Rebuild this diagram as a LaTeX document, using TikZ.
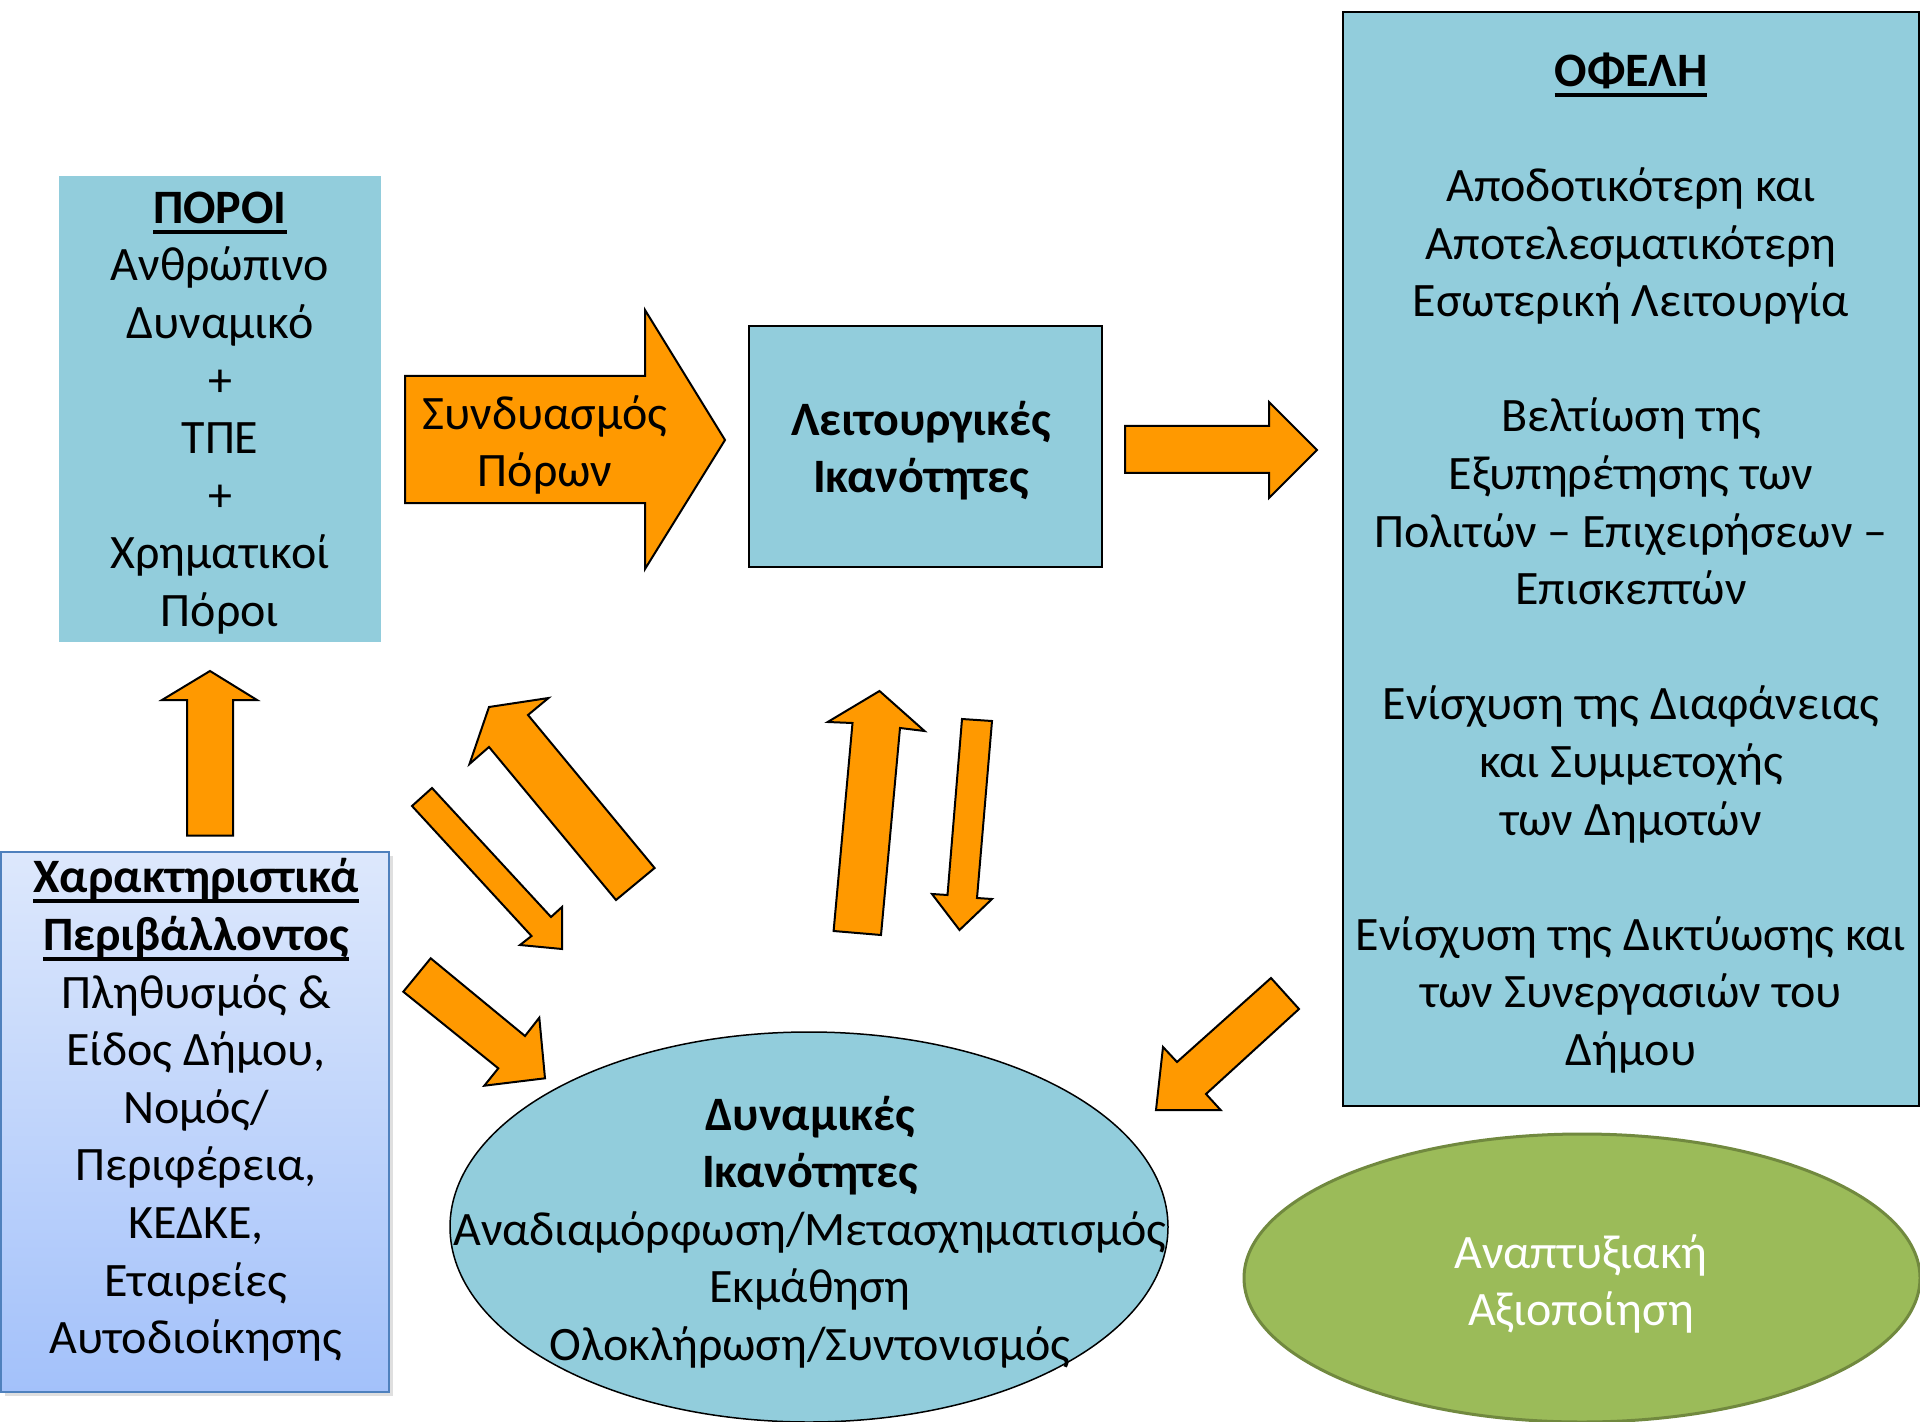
\documentclass[tikz,border=0pt]{standalone}
\usepackage{fontspec}
\setmainfont{Carlito}
\usetikzlibrary{shapes.geometric,shadows}
\definecolor{boxblue}{HTML}{92CDDC}
\definecolor{arrorange}{HTML}{FF9900}
\definecolor{gradtop}{RGB}{221,232,252}
\definecolor{gradbot}{RGB}{163,193,250}
\definecolor{gradborder}{HTML}{4F81BD}
\definecolor{greenfill}{HTML}{9BBB59}
\definecolor{greenline}{HTML}{71893F}
\newcommand\ulx[1]{\setbox0=\hbox{#1}\makebox[0pt][l]{\rule[-0.22em]{\wd0}{0.09em}}\box0}
\begin{document}
\begin{tikzpicture}[x=0.5pt,y=-0.5pt,
  txt/.style={font=\fontsize{24}{28.8}\selectfont, align=center, inner sep=0pt, yshift=-2pt},
  bluebox/.style={fill=boxblue, inner sep=0pt},
  blockarrow/.style={fill=arrorange, draw=black, line width=1pt, line join=miter},
]
\useasboundingbox (0,0) rectangle (1920,1422);
\fill[white] (0,0) rectangle (1920,1422);

% boxes
\node[bluebox, minimum width=161pt, minimum height=233pt] (poroi) at (220,409) {};
\node[txt] (poroitext) at (poroi.center)
  {\textbf{\ulx{ΠΟΡΟΙ}}\\Ανθρώπινο\\Δυναμικό\\+\\ΤΠΕ\\+\\Χρηματικοί\\Πόροι};

\node[bluebox, draw=black, line width=1pt, minimum width=176.5pt, minimum height=120.5pt] (leit) at (925.5,446.5) {};
\node[txt] (leittext) at (921,446.5) {\textbf{Λειτουργικές}\\\textbf{Ικανότητες}};

\node[bluebox, draw=black, line width=1pt, minimum width=288pt, minimum height=547pt] (ofeli) at (1631,559) {};
\node[txt] (ofelitext) at (ofeli.center)
  {\textbf{\ulx{ΟΦΕΛΗ}}\\[28.8pt]
   Αποδοτικότερη και\\Αποτελεσματικότερη\\Εσωτερική Λειτουργία\\[28.8pt]
   Βελτίωση της\\Εξυπηρέτησης των\\Πολιτών – Επιχειρήσεων –\\Επισκεπτών\\[28.8pt]
   Ενίσχυση της Διαφάνειας\\και Συμμετοχής\\των Δημοτών\\[28.8pt]
   Ενίσχυση της Δικτύωσης και\\των Συνεργασιών του\\Δήμου};

\node[inner sep=0pt, minimum width=194pt, minimum height=270pt, top color=gradtop, bottom color=gradbot,
      draw=gradborder, line width=1pt, drop shadow={opacity=0.25, shadow xshift=2pt, shadow yshift=-2pt}] (env) at (194.5,1122) {};
\node[txt, yshift=1pt] (envtext) at (196,1108)
  {\textbf{\ulx{Χαρακτηριστικά}}\\\textbf{\ulx{Περιβάλλοντος}}\\Πληθυσμός \&\\Είδος Δήμου,\\Νομός/\\Περιφέρεια,\\ΚΕΔΚΕ,\\Εταιρείες\\Αυτοδιοίκησης};

\node[ellipse, draw=black, line width=0.75pt, fill=boxblue, minimum width=359pt, minimum height=195pt, inner sep=0pt] (dyn) at (809,1227) {};
\node[txt] (dyntext) at (810,1228)
  {\textbf{Δυναμικές}\\\textbf{Ικανότητες}\\Αναδιαμόρφωση/Μετασχηματισμός\\Εκμάθηση\\Ολοκλήρωση/Συντονισμός};

\node[ellipse, draw=greenline, line width=1.5pt, fill=greenfill, minimum width=338pt, minimum height=144pt, inner sep=0pt] (green) at (1582,1278) {};
\node[txt, text=white] (greentext) at (1581,1280) {Αναπτυξιακή\\Αξιοποίηση};

% block arrows
\draw[blockarrow] (187,835.5) -- (187,700) -- (162,700) -- (210,671) -- (257,700) -- (233,700) -- (233,835.5) -- cycle;
\draw[blockarrow] (405,376) -- (645,376) -- (645,310) -- (725,440) -- (645,569) -- (645,503) -- (405,503) -- cycle;
\node[txt] (synd) at (545,441) {Συνδυασμός\\Πόρων};
\draw[blockarrow] (1125,426) -- (1269,426) -- (1269,402) -- (1317,450) -- (1269,498) -- (1269,473) -- (1125,473) -- cycle;
\draw[blockarrow] (616,900) -- (489,747) -- (469.5,764) -- (489,707) -- (548.5,698) -- (528,715) -- (654.6,868) -- cycle;
\draw[blockarrow] (412,806) -- (432,788) -- (551,917) -- (562,907) -- (562,949) -- (520,945) -- (531.5,936) -- cycle;
\draw[blockarrow] (430.7,958.3) -- (525,1036) -- (539.3,1017.7) -- (545,1078.3) -- (484.3,1085.7) -- (498.3,1068.3) -- (403.3,991.7) -- cycle;
\draw[blockarrow] (833.6,931) -- (852.5,723) -- (827.7,722) -- (879.5,691) -- (924.5,731) -- (900,728) -- (881,935) -- cycle;
\draw[blockarrow] (962,719) -- (992,721) -- (977,898) -- (992,899) -- (959.5,930) -- (932,894) -- (947.5,895) -- cycle;
\draw[blockarrow] (1271,978) -- (1299,1009) -- (1206,1094) -- (1220.6,1110) -- (1156,1110) -- (1163,1047) -- (1177,1062) -- cycle;
\end{tikzpicture}
\end{document}
